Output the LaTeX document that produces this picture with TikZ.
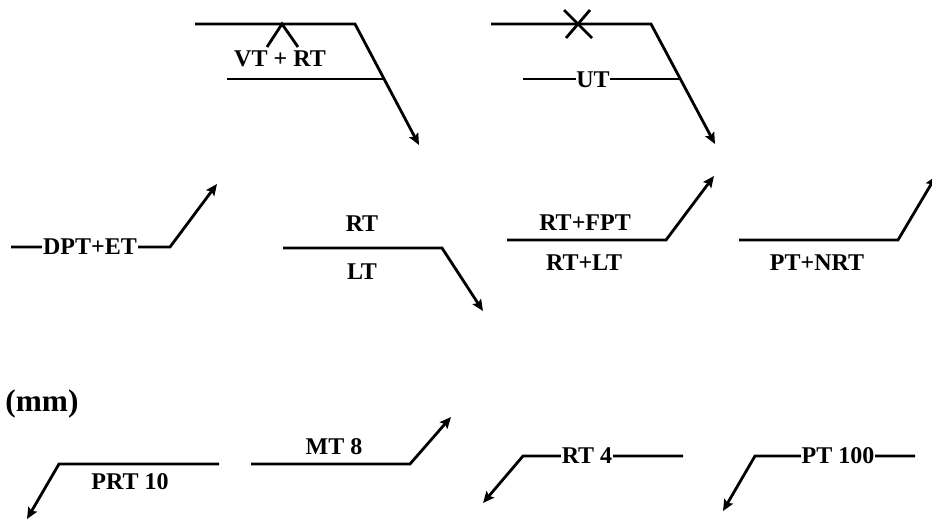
\documentclass[tikz,border=0pt]{standalone}
\usepackage{fontspec}
\setmainfont{Liberation Serif}
\usetikzlibrary{arrows.meta}
\tikzset{
  wire/.style={line width=2.1pt,line join=miter,line cap=butt},
  arrowwire/.style={wire,-{Stealth[length=8.5pt,width=7.5pt,inset=1.5pt]}},
  lbl/.style={font=\fontsize{18}{20}\selectfont\bfseries,inner sep=0pt},
  lblcut/.style={lbl,fill=white,inner xsep=0.5pt,inner ysep=1pt},
  big/.style={font=\fontsize{23.5}{25}\selectfont\bfseries,inner sep=0pt}
}
\begin{document}
\begin{tikzpicture}[x=0.75pt,y=-0.75pt]
\useasboundingbox (0,0) rectangle (932,521);
% A
\coordinate (a1) at (195,24); \coordinate (a2) at (355,24); \coordinate (a3) at (419,145);
\coordinate (a4) at (227,79); \coordinate (a5) at (385,79);
\coordinate (a6) at (267,47); \coordinate (a7) at (282,24); \coordinate (a8) at (298,47);
\draw[arrowwire] (a1) -- (a2) -- (a3);
\draw[wire] (a4) -- (a5);
\draw[wire] (a6) -- (a7) -- (a8);
\node[lbl] (avt) at (280,59) {VT + RT};
% B
\coordinate (b1) at (491,24); \coordinate (b2) at (651,24); \coordinate (b3) at (715,144);
\coordinate (b4) at (523,79); \coordinate (b5) at (681,79);
\coordinate (bx1) at (564,10); \coordinate (bx2) at (592,38);
\coordinate (bx3) at (590,10); \coordinate (bx4) at (566,38);
\draw[arrowwire] (b1) -- (b2) -- (b3);
\draw[wire] (bx1) -- (bx2);
\draw[wire] (bx3) -- (bx4);
\draw[wire] (b4) -- (b5);
\node[lblcut] (but) at (593,80) {UT};
% C
\coordinate (c1) at (11,247); \coordinate (c2) at (170,247); \coordinate (c3) at (217,184);
\draw[arrowwire] (c1) -- (c2) -- (c3);
\node[lblcut] (cdpt) at (90,247) {DPT+ET};
% D
\coordinate (d1) at (283,248); \coordinate (d2) at (442,248); \coordinate (d3) at (483,311);
\draw[arrowwire] (d1) -- (d2) -- (d3);
\node[lbl] (drt) at (362,224) {RT};
\node[lbl] (dlt) at (362,272) {LT};
% E
\coordinate (e1) at (507,240); \coordinate (e2) at (666,240); \coordinate (e3) at (714,176);
\draw[arrowwire] (e1) -- (e2) -- (e3);
\node[lbl] (efpt) at (585,223) {RT+FPT};
\node[lbl] (elt) at (584,263) {RT+LT};
% F
\coordinate (f1) at (739,240); \coordinate (f2) at (898,240); \coordinate (f3) at (936,176);
\draw[arrowwire] (f1) -- (f2) -- (f3);
\node[lbl] (fnrt) at (817,263) {PT+NRT};
% unit
\node[big] (unit) at (42,403.5) {(mm)};
% G
\coordinate (g1) at (219,464); \coordinate (g2) at (59,464); \coordinate (g3) at (27,519);
\draw[arrowwire] (g1) -- (g2) -- (g3);
\node[lbl] (gprt) at (130,482) {PRT 10};
% H
\coordinate (h1) at (251,464); \coordinate (h2) at (410,464); \coordinate (h3) at (451,417);
\draw[arrowwire] (h1) -- (h2) -- (h3);
\node[lbl] (hmt) at (334,447) {MT 8};
% I
\coordinate (i1) at (683,456); \coordinate (i2) at (523,456); \coordinate (i3) at (483,503);
\draw[arrowwire] (i1) -- (i2) -- (i3);
\node[lblcut] (irt) at (587,456) {RT 4};
% J
\coordinate (j1) at (915,456); \coordinate (j2) at (755,456); \coordinate (j3) at (723,511);
\draw[arrowwire] (j1) -- (j2) -- (j3);
\node[lblcut] (jpt) at (838,456) {PT 100};
\end{tikzpicture}
\end{document}
